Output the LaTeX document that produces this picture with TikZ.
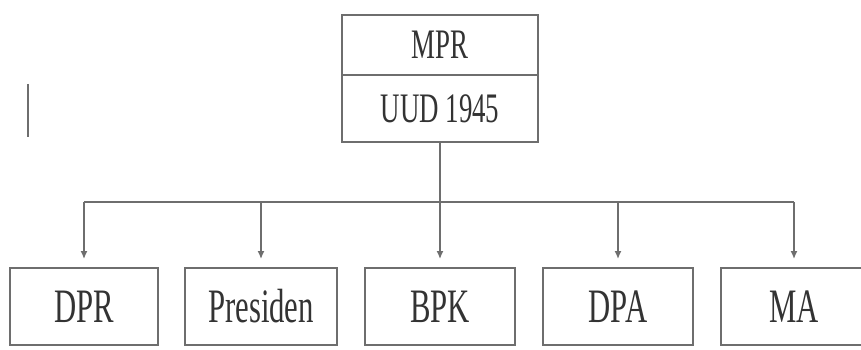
\documentclass[tikz,border=0pt]{standalone}
\usepackage{fontspec}
\setmainfont{Liberation Serif}
\usetikzlibrary{arrows.meta}
\definecolor{linegray}{HTML}{6E6E6E}
\definecolor{textgray}{HTML}{333333}
\newcommand{\narrow}[1]{\scalebox{0.64}[1]{#1}}

\begin{document}
\begin{tikzpicture}[x=1pt, y=-1pt,
  box/.style={draw=linegray, line width=1.8pt, text=textgray, inner sep=0pt,
    minimum width=150pt, minimum height=77pt, font=\fontsize{48}{50}\selectfont},
  topbox/.style={draw=linegray, line width=1.8pt, text=textgray, inner sep=0pt,
    minimum width=196pt, font=\fontsize{42}{44}\selectfont},
  link/.style={draw=linegray, line width=1.8pt},
  tip/.style={-{Latex[length=8pt, width=7pt]}}]
\useasboundingbox (0, 0) rectangle (861, 350);
\clip (0, 0) rectangle (861, 350);
% MPR / UUD 1945
\node[topbox, minimum height=60pt] (mpr) at (440, 45) {\narrow{MPR}};
\node[topbox, minimum height=67pt] (uud) at (440, 108.5) {\narrow{UUD 1945}};
% lembaga
\node[box, minimum width=148pt] (dpr) at (84, 306.5) {\narrow{DPR}};
\node[box, minimum width=152pt] (presiden) at (261, 306.5) {\narrow{Presiden}};
\node[box] (bpk) at (440, 306.5) {\narrow{BPK}};
\node[box] (dpa) at (618, 306.5) {\narrow{DPA}};
\node[box, minimum width=146pt] (ma) at (794, 306.5) {\narrow{MA}};
% garis
\coordinate (busL) at (84, 202);
\coordinate (busR) at (794, 202);
\draw[link] (uud.south) -- (uud.south |- busL);
\draw[link] (busL) -- (busR);
\foreach \n in {dpr, presiden, bpk, dpa, ma}
  \draw[link, tip] (\n.north |- busL) -- ([yshift=8pt]\n.north);
% tanda
\draw[link, line width=1.4pt] (28, 84) -- (28, 137);
\end{tikzpicture}
\end{document}
